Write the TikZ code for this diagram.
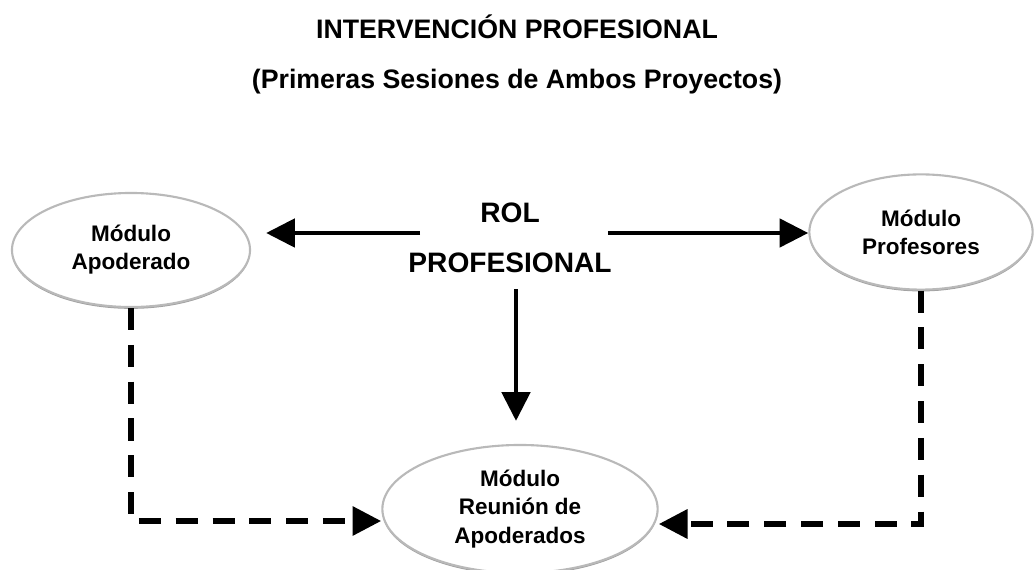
\documentclass[tikz,border=0pt]{standalone}
\usepackage{fontspec}
\setmainfont{Liberation Sans}
\usetikzlibrary{shapes.geometric, positioning, arrows.meta, shadows}
\tikzset{
modulo/.style={ellipse, draw=gray!55, fill=white, line width=1.5pt, align=center, inner sep=0pt,
  drop shadow={shadow xshift=0pt, shadow yshift=-1.3pt, fill=gray!75, opacity=1},
  font=\fontsize{16}{20}\selectfont\bfseries}, % the three module ellipses
titulo/.style={font=\fontsize{19}{23}\selectfont\bfseries, inner sep=0pt}, % heading lines
flecha/.style={-{Triangle[length=0.72cm, width=0.7cm]}, line width=3.5pt}, % solid arrows
discont/.style={flecha, line width=4.5pt, dash pattern=on 0.55cm off 0.37cm}, % dashed arrows
}
\begin{document}
\begin{tikzpicture}[x=0.025cm, y=-0.025cm]
    \useasboundingbox (0,0) rectangle (1034,570);
    \node[titulo, anchor=base] (title) at (517,39) {INTERVENCIÓN PROFESIONAL};
    \node[titulo, below=1.225cm of title.base, anchor=base] (subtitle) {(Primeras Sesiones de Ambos Proyectos)};
    \node[align=center, inner sep=0pt, font=\fontsize{20}{35.6}\selectfont\bfseries] (rol) at (510,238) {ROL\\PROFESIONAL};
    \node[modulo, minimum width=5.95cm, minimum height=2.85cm] (apod) at (131,250) {Módulo\\Apoderado};
    \node[modulo, minimum width=5.58cm, minimum height=2.88cm] (prof) at (921,232) {Módulo\\Profesores};
    \node[modulo, minimum width=6.88cm, minimum height=3.2cm] (reun) at (520,509) {Módulo\\Reunión de\\Apoderados};
    \coordinate (rolL) at ([xshift=0.3cm, yshift=0.125cm]rol.west);
    \coordinate (rolR) at ([xshift=-0.1cm, yshift=0.125cm]rol.east);
    \coordinate (reunL) at ([yshift=-0.3cm]reun.west);
    \coordinate (reunR) at ([yshift=-0.375cm]reun.east);
    \draw[flecha, shorten >=0.375cm] (rolL) -- (apod.east |- rolL);
    \draw[flecha] (rolR) -- (prof.west |- rolR);
    \draw[flecha, shorten <=0.4cm, shorten >=0.575cm] ([xshift=0.15cm]rol.south) -- ([xshift=0.15cm]rol.south |- reun.north);
    \draw[discont] (apod.south) |- (reunL);
    \draw[discont] (prof.south) |- (reunR);
\end{tikzpicture}
\end{document}
